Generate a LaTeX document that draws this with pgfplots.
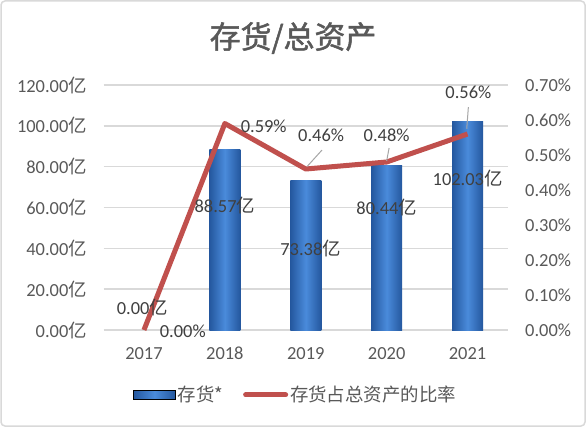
\documentclass[border=0pt]{standalone}
\usepackage{pgfplots}
\pgfplotsset{compat=1.18}
\usepackage{fontspec}
\setmainfont{Carlito}
\newfontfamily\cjk{Noto Sans CJK SC}
\newfontfamily\cjktitle[FakeBold=1.6]{Noto Sans CJK SC}

\definecolor{bardark}{HTML}{24579E}
\definecolor{barmid}{HTML}{4A8BDB}
\definecolor{linered}{HTML}{C0504D}
\definecolor{gridgray}{HTML}{D9D9D9}
\definecolor{ticktext}{HTML}{595959}
\definecolor{labeltext}{HTML}{404040}
\definecolor{leader}{HTML}{A6A6A6}

\pgfplotstableread{
x ratio
0 0.00
1 0.59
2 0.46
3 0.48
4 0.56
}\ratiotable

\pgfplotsset{
  barstyle/.style={ybar, bar shift=0pt, bar width=31bp, draw=none,
    left color=bardark, right color=bardark, middle color=barmid},
  common/.style={
    at={(103.5bp,97bp)}, anchor=south west, scale only axis,
    width=404.5bp, height=245bp,
    xmin=-0.5, xmax=4.5,
    axis line style={draw=none}, major tick length=0pt,
    tick label style={font=\fontsize{18.5}{22}\selectfont, text=ticktext, inner sep=0pt},
  },
}

\begin{document}
\begin{tikzpicture}[x=1bp,y=1bp]
\path[use as bounding box] (0,0) rectangle (586,427);
\draw[gridgray, line width=1.5bp, rounded corners=4bp, fill=white] (1,1) rectangle (585,426);
\node[text=ticktext, font=\fontsize{31}{36}\selectfont\cjktitle] at (293,389) {存货/总资产};

% left axis: inventory in 100 million
\begin{axis}[common,
  ymin=0, ymax=120,
  xtick={0,1,2,3,4}, xticklabels={2017,2018,2019,2020,2021},
  xticklabel style={anchor=base, yshift=-29bp},
  ytick={0,20,...,120},
  yticklabel={\pgfmathprintnumber[fixed,fixed zerofill,precision=2,assume math mode=true]{\tick}{\cjk 亿}},
  yticklabel style={anchor=east, xshift=-16.5bp},
  ymajorgrids, grid style={gridgray, line width=1.5bp},
]
\addplot[barstyle] coordinates {(1,88.57)};
\addplot[barstyle] coordinates {(2,73.38)};
\addplot[barstyle] coordinates {(3,80.44)};
\addplot[barstyle] coordinates {(4,102.03)};
\end{axis}

% right axis: share of total assets
\begin{axis}[common,
  ymin=0, ymax=0.7,
  hide x axis,
  axis y line*=right,
  ytick={0,0.1,...,0.7},
  yticklabel={\pgfmathprintnumber[fixed,fixed zerofill,precision=2,assume math mode=true]{\tick}\%},
  yticklabel style={anchor=west, xshift=17bp},
  clip=false,
  legend columns=2,
  legend style={at={(0.475,-0.265)}, anchor=center, draw=none, fill=none,
    font=\fontsize{18.5}{22}\selectfont\cjk, text=ticktext,
    /tikz/every even column/.append style={column sep=18bp}},
]
\addlegendimage{legend image code/.code={
  \shade[left color=bardark, right color=bardark, middle color=barmid]
    (0bp,-4.5bp) rectangle (42bp,4.5bp);}}
\addlegendentry{存货*}
\addplot[linered, line width=5bp, line join=round,
  legend image code/.code={\draw[linered, line width=5bp, line cap=round] (2bp,0bp) -- (42bp,0bp);}]
  table[x=x, y=ratio] {\ratiotable};
\addlegendentry{存货占总资产的比率}

\draw[leader, line width=1bp] (axis cs:2.2,0.514) -- (axis cs:2.02,0.468);
\draw[leader, line width=1bp] (axis cs:3.03,0.52) -- (axis cs:3.0,0.483);
\draw[leader, line width=1bp] (axis cs:4.01,0.637) -- (axis cs:3.99,0.575);

\tikzset{lab/.style={text=labeltext, font=\fontsize{18.5}{22}\selectfont, inner sep=0pt}}
\node[lab] at (axis cs:-0.02,0.063) {0.00{\cjk 亿}};
\node[lab] at (axis cs:1,0.357) {88.57{\cjk 亿}};
\node[lab] at (axis cs:2.06,0.234) {73.38{\cjk 亿}};
\node[lab] at (axis cs:3,0.351) {80.44{\cjk 亿}};
\node[lab] at (axis cs:4,0.434) {102.03{\cjk 亿}};

\node[lab] at (axis cs:0.48,-0.003) {0.00\%};
\node[lab] at (axis cs:1.48,0.583) {0.59\%};
\node[lab] at (axis cs:2.19,0.557) {0.46\%};
\node[lab] at (axis cs:3,0.557) {0.48\%};
\node[lab] at (axis cs:4.01,0.68) {0.56\%};
\end{axis}
\end{tikzpicture}
\end{document}
